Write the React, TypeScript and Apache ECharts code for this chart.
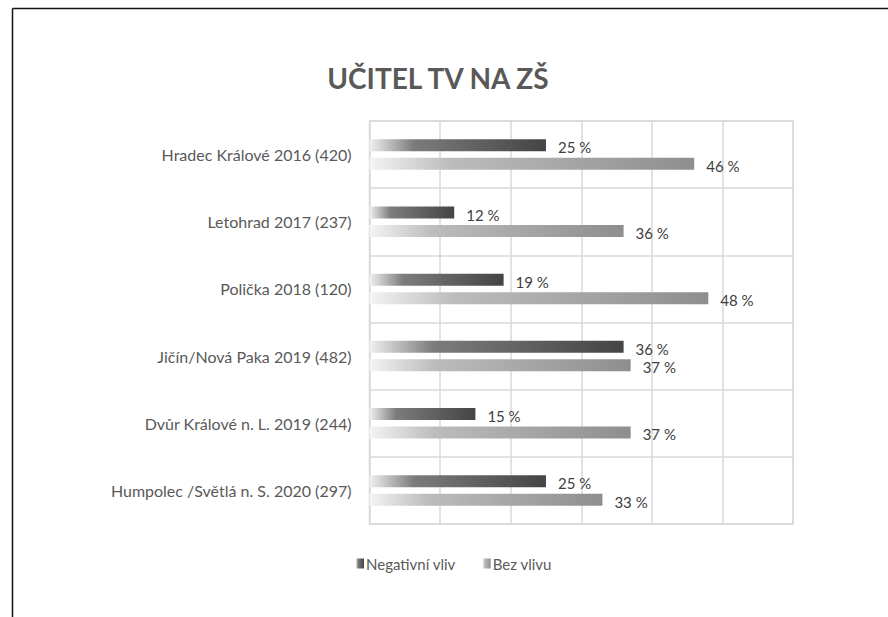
import React, { useEffect, useRef } from "react";
import * as echarts from "echarts";

const categories = [
  "Hradec Králové 2016 (420)",
  "Letohrad 2017 (237)",
  "Polička 2018 (120)",
  "Jičín/Nová Paka 2019 (482)",
  "Dvůr Králové n. L. 2019 (244)",
  "Humpolec /Světlá n. S. 2020 (297)",
];
const negativniVliv = [25, 12, 19, 36, 15, 25];
const bezVlivu = [46, 36, 48, 37, 37, 33];
const seriesNames = ["Negativní vliv", "Bez vlivu"];
const titleText = "UČITEL TV NA ZŠ";

const FONT = "Lato, 'Open Sans', sans-serif";

function grad(c0: string, c1: string, c2: string) {
  return new echarts.graphic.LinearGradient(0, 0, 1, 0, [
    { offset: 0, color: c0 },
    { offset: 0.25, color: c1 },
    { offset: 1, color: c2 },
  ]);
}

export default function App() {
  const ref = useRef<HTMLDivElement>(null);
  useEffect(() => {
    if (!ref.current) return;
    const chart = echarts.init(ref.current, null, { renderer: "svg" });
    const label = {
      show: true,
      position: "right",
      distance: 12,
      formatter: "{c} %",
      fontFamily: FONT,
      fontSize: 15,
      color: "#404040",
    };
    chart.setOption({
      animation: false,
      backgroundColor: "#ffffff",
      title: {
        text: titleText,
        left: 433,
        top: 59,
        textAlign: "center",
        textStyle: {
          fontFamily: FONT,
          fontWeight: "bold",
          fontSize: 28,
          color: "#595959",
        },
      },
      graphic: [
        {
          type: "line",
          shape: { x1: 12.5, y1: 8.5, x2: 888, y2: 8.5 },
          style: { stroke: "#111", lineWidth: 1.5 },
        },
        {
          type: "line",
          shape: { x1: 12.5, y1: 8.5, x2: 12.5, y2: 617 },
          style: { stroke: "#111", lineWidth: 1.5 },
        },
      ],
      legend: {
        data: seriesNames,
        left: 351,
        top: 551,
        itemWidth: 8,
        itemHeight: 10,
        itemGap: 27,
        icon: "rect",
        textStyle: {
          fontFamily: FONT,
          fontSize: 15,
          color: "#595959",
          padding: [0, 0, 0, -3],
        },
      },
      grid: {
        left: 369.5,
        right: 95,
        top: 121,
        height: 403,
        show: true,
        borderColor: "#d9d9d9",
        borderWidth: 1.5,
      },
      xAxis: {
        type: "value",
        min: 0,
        max: 60,
        interval: 10,
        axisLabel: { show: false },
        axisLine: { show: false },
        axisTick: { show: false },
        splitLine: { show: true, lineStyle: { color: "#d9d9d9", width: 1.5 } },
      },
      yAxis: {
        type: "category",
        data: categories,
        inverse: true,
        axisLine: { show: false },
        axisTick: { show: false },
        splitLine: { show: true, lineStyle: { color: "#d9d9d9", width: 1.5 } },
        axisLabel: {
          fontFamily: FONT,
          fontSize: 16,
          color: "#595959",
          margin: 18,
        },
      },
      series: [
        {
          name: seriesNames[0],
          type: "bar",
          data: negativniVliv,
          barWidth: 12,
          barGap: "54%",
          itemStyle: { color: grad("#f0f0f0", "#7c7c7c", "#444444") },
          label: { ...label, offset: [0, 2] },
        },
        {
          name: seriesNames[1],
          type: "bar",
          data: bezVlivu,
          barWidth: 12,
          itemStyle: { color: grad("#f4f4f4", "#bcbcbc", "#8e8e8e") },
          label: { ...label, offset: [0, 2] },
        },
      ],
    });
    return () => chart.dispose();
  }, []);
  return (
    <div
      ref={ref}
      style={{ position: "fixed", left: 0, top: 0, width: 888, height: 617 }}
    />
  );
}
